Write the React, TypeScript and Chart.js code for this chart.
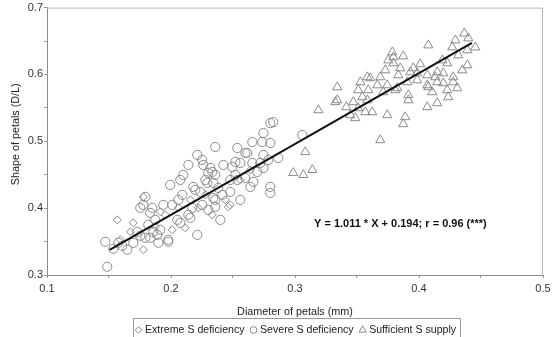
import React, { useEffect, useRef } from 'react';
import { Chart, registerables } from 'chart.js';
Chart.register(...registerables);

// Extreme S deficiency (diamonds)
const extremeX = [0.1567, 0.1696, 0.1873, 0.1591, 0.1954, 0.2059, 0.2156, 0.2478, 0.2559, 0.2220, 0.2333, 0.2640, 0.2115, 0.1914, 0.1672, 0.2277, 0.2438, 0.2462, 0.1777, 0.2010, 0.1777];
const extremeY = [0.3825, 0.3780, 0.3721, 0.3527, 0.3900, 0.4004, 0.4124, 0.4049, 0.4422, 0.4004, 0.3900, 0.4572, 0.3706, 0.3945, 0.3646, 0.4199, 0.4124, 0.4019, 0.3378, 0.3676, 0.4169];

// Severe S deficiency (circles)
const severeX = [0.1470, 0.1486, 0.1535, 0.1575, 0.1607, 0.1648, 0.1696, 0.1728, 0.1752, 0.1793, 0.1833, 0.1857, 0.1889, 0.1898, 0.1914, 0.1978, 0.2051, 0.2075, 0.2140, 0.2156, 0.2212, 0.1752, 0.1777, 0.1849, 0.1938, 0.2010, 0.1793, 0.1833, 0.1817, 0.1873, 0.1994, 0.2059, 0.2091, 0.2196, 0.2236, 0.2252, 0.2293, 0.2317, 0.2357, 0.2357, 0.2260, 0.2301, 0.2357, 0.2277, 0.2341, 0.2341, 0.2301, 0.2357, 0.2422, 0.2519, 0.2478, 0.2535, 0.2559, 0.2599, 0.2640, 0.2656, 0.2656, 0.2664, 0.2720, 0.2736, 0.2745, 0.2745, 0.2801, 0.2801, 0.2825, 0.2801, 0.2801, 0.2865, 0.2478, 0.2414, 0.2398, 0.2172, 0.2381, 0.2559, 0.2696, 0.2599, 0.3059, 0.2252, 0.2212, 0.2140, 0.2099, 0.2333, 0.2494, 0.2519, 0.2616, 0.2785, 0.2745, 0.2535, 0.2180, 0.2075, 0.1978];
const severeY = [0.3497, 0.3124, 0.3393, 0.3482, 0.3437, 0.3378, 0.3482, 0.3646, 0.3587, 0.3557, 0.3557, 0.3646, 0.3601, 0.3482, 0.3676, 0.3527, 0.3825, 0.3780, 0.3900, 0.3855, 0.3601, 0.4004, 0.4049, 0.4004, 0.4049, 0.4049, 0.4169, 0.3930, 0.3751, 0.3825, 0.4348, 0.4124, 0.4199, 0.4273, 0.4243, 0.4049, 0.4378, 0.4601, 0.4124, 0.4915, 0.4646, 0.4527, 0.4497, 0.4422, 0.4378, 0.4154, 0.3975, 0.4019, 0.4646, 0.4497, 0.4243, 0.4900, 0.4676, 0.4825, 0.4318, 0.4989, 0.4676, 0.4393, 0.4676, 0.4989, 0.5124, 0.4796, 0.4974, 0.5272, 0.5287, 0.4318, 0.4228, 0.4751, 0.4422, 0.4199, 0.3825, 0.4004, 0.4303, 0.4124, 0.4542, 0.4452, 0.5094, 0.4721, 0.4796, 0.4646, 0.4497, 0.4542, 0.4616, 0.4691, 0.4825, 0.4721, 0.4601, 0.4422, 0.4318, 0.4422, 0.3497];

// Sufficient S supply (triangles)
const sufficientX = [0.4365, 0.4075, 0.4293, 0.4268, 0.4398, 0.4454, 0.4390, 0.4317, 0.3785, 0.3793, 0.3873, 0.3752, 0.3793, 0.3849, 0.3954, 0.3930, 0.3986, 0.4067, 0.4147, 0.4188, 0.4228, 0.4196, 0.4276, 0.4349, 0.4390, 0.3728, 0.3688, 0.3583, 0.3607, 0.3527, 0.3664, 0.3744, 0.3825, 0.3906, 0.3986, 0.4067, 0.4147, 0.4196, 0.4276, 0.4309, 0.4131, 0.4075, 0.3341, 0.3510, 0.3591, 0.3712, 0.3543, 0.3341, 0.3325, 0.3470, 0.3583, 0.3914, 0.3914, 0.4236, 0.4067, 0.4147, 0.3809, 0.3188, 0.3446, 0.3567, 0.3623, 0.3486, 0.3744, 0.3889, 0.3873, 0.3688, 0.3083, 0.2986, 0.3067, 0.3140, 0.4010, 0.3833, 0.4228, 0.4107, 0.3414, 0.3510];
const sufficientY = [0.6616, 0.6437, 0.6512, 0.6407, 0.6542, 0.6407, 0.6363, 0.6288, 0.6333, 0.6258, 0.6273, 0.6213, 0.6169, 0.6094, 0.6094, 0.6034, 0.6019, 0.5990, 0.6034, 0.6213, 0.6169, 0.6019, 0.5960, 0.6064, 0.6139, 0.6064, 0.5960, 0.5960, 0.5945, 0.5885, 0.5840, 0.5840, 0.5796, 0.5885, 0.5915, 0.5840, 0.5885, 0.5870, 0.5885, 0.5796, 0.5960, 0.5810, 0.5810, 0.5766, 0.5766, 0.5736, 0.5661, 0.5616, 0.5587, 0.5587, 0.5616, 0.5691, 0.5616, 0.5661, 0.5512, 0.5572, 0.5766, 0.5467, 0.5393, 0.5437, 0.5437, 0.5348, 0.5393, 0.5363, 0.5258, 0.5019, 0.4840, 0.4527, 0.4497, 0.4572, 0.6154, 0.5990, 0.5766, 0.5736, 0.5512, 0.5497];

// Regression line as drawn
const lineX = [0.1505, 0.4427];
const lineY = [0.3375, 0.6472];

const xTickLabels = ['0.1', '0.2', '0.3', '0.4', '0.5'];
const yTickLabels = ['0.3', '0.4', '0.5', '0.6', '0.7'];
const legendLabels = ['Extreme S deficiency', 'Severe S deficiency', 'Sufficient S supply'];
const xTitle = 'Diameter of petals (mm)';
const yTitle = 'Shape of petals (D/L)';
const equationText = 'Y = 1.011 * X + 0.194; r = 0.96 (***)';
const equationPos = [0.385, 0.3766];

const FONT = "'Liberation Sans', Arial, sans-serif";
const MARK = '#8a8a8a';

const pts = (xs: number[], ys: number[]) => xs.map((x, i) => ({ x, y: ys[i] }));

function drawMarker(ctx: CanvasRenderingContext2D, kind: string, x: number, y: number, r: number) {
  ctx.beginPath();
  if (kind === 'diamond') {
    ctx.moveTo(x, y - r); ctx.lineTo(x + r, y); ctx.lineTo(x, y + r); ctx.lineTo(x - r, y); ctx.closePath();
  } else if (kind === 'circle') {
    ctx.arc(x, y, r, 0, Math.PI * 2);
  } else {
    ctx.moveTo(x, y - r); ctx.lineTo(x + r * 0.866, y + r * 0.5); ctx.lineTo(x - r * 0.866, y + r * 0.5); ctx.closePath();
  }
  ctx.stroke();
}

const decorPlugin = {
  id: 'decor',
  afterDraw(chart: any) {
    const ctx: CanvasRenderingContext2D = chart.ctx;
    const a = chart.chartArea;
    ctx.save();
    // top / right frame
    ctx.strokeStyle = '#b8b8b8';
    ctx.lineWidth = 1;
    ctx.beginPath();
    ctx.moveTo(a.left, a.top + 0.5); ctx.lineTo(a.right - 0.5, a.top + 0.5); ctx.lineTo(a.right - 0.5, a.bottom);
    ctx.stroke();

    // equation
    ctx.fillStyle = '#111';
    ctx.font = `bold 11px ${FONT}`;
    ctx.textAlign = 'center';
    ctx.textBaseline = 'middle';
    ctx.fillText(equationText, chart.scales.x.getPixelForValue(equationPos[0]), chart.scales.y.getPixelForValue(equationPos[1]));

    // x title
    ctx.font = `10.8px ${FONT}`;
    ctx.fillStyle = '#222';
    const cx = (a.left + a.right) / 2;
    ctx.fillText(xTitle, cx, 312);

    // y title
    ctx.save();
    ctx.translate(16, (a.top + a.bottom) / 2 - 7);
    ctx.rotate(-Math.PI / 2);
    ctx.fillText(yTitle, 0, 0);
    ctx.restore();

    // legend
    const kinds = ['diamond', 'circle', 'triangle'];
    const radii = [3.3, 3.4, 4.2];
    ctx.font = `10.6px ${FONT}`;
    const widths = legendLabels.map((l) => ctx.measureText(l).width);
    const markerToText = 6.5;
    const gap = 9;
    const pad = 5;
    let total = pad;
    widths.forEach((w, i) => { total += markerToText + w + (i < widths.length - 1 ? gap : 0); });
    total += 4;
    const boxLeft = Math.round(cx + 1 - total / 2) + 0.5;
    const boxTop = 318.5;
    ctx.strokeStyle = '#9a9a9a';
    ctx.strokeRect(boxLeft, boxTop, Math.round(total), 22);
    let cur = boxLeft + pad;
    const ly = 330;
    ctx.textAlign = 'left';
    widths.forEach((w, i) => {
      ctx.strokeStyle = MARK;
      ctx.lineWidth = 1;
      drawMarker(ctx, kinds[i], cur, ly, radii[i]);
      ctx.fillStyle = '#222';
      ctx.fillText(legendLabels[i], cur + markerToText, ly);
      cur += markerToText + w + gap;
    });
    ctx.restore();
  },
};

export default function App() {
  const ref = useRef<HTMLCanvasElement>(null);
  useEffect(() => {
    if (!ref.current) return;
    const chart = new Chart(ref.current, {
      type: 'scatter',
      data: {
        datasets: [
          {
            label: 'fit',
            data: pts(lineX, lineY),
            showLine: true,
            borderColor: '#111',
            borderWidth: 2,
            pointRadius: 0,
          } as any,
          {
            label: legendLabels[0],
            data: pts(extremeX, extremeY),
            pointStyle: 'rectRot',
            pointRadius: 4,
            borderColor: MARK,
            backgroundColor: 'rgba(0,0,0,0)',
            borderWidth: 1,
          },
          {
            label: legendLabels[1],
            data: pts(severeX, severeY),
            pointStyle: 'circle',
            pointRadius: 4.6,
            borderColor: MARK,
            backgroundColor: 'rgba(0,0,0,0)',
            borderWidth: 1,
          },
          {
            label: legendLabels[2],
            data: pts(sufficientX, sufficientY),
            pointStyle: 'triangle',
            pointRadius: 5.3,
            borderColor: MARK,
            backgroundColor: 'rgba(0,0,0,0)',
            borderWidth: 1,
          },
        ],
      },
      options: {
        responsive: false,
        animation: false,
        events: [],
        layout: { padding: { top: 7, right: 13, left: 0, bottom: 0 } },
        plugins: { legend: { display: false }, tooltip: { enabled: false }, title: { display: false } },
        scales: {
          x: {
            type: 'linear',
            min: 0.1,
            max: 0.5,
            ticks: {
              stepSize: 0.05,
              autoSkip: false,
              maxRotation: 0,
              padding: 4,
              color: '#333',
              font: { family: FONT, size: 11 },
              callback: (_v: any, i: number) => (i % 2 === 0 ? xTickLabels[i / 2] : ''),
            },
            grid: { drawOnChartArea: false, drawTicks: true, tickLength: 3, color: '#999' },
            border: { display: true, color: '#8c8c8c' },
            afterFit: (s: any) => { s.height = 62; },
          },
          y: {
            type: 'linear',
            min: 0.3,
            max: 0.7,
            ticks: {
              stepSize: 0.05,
              autoSkip: false,
              padding: 1,
              color: '#333',
              font: { family: FONT, size: 11 },
              callback: (_v: any, i: number) => (i % 2 === 0 ? yTickLabels[i / 2] : ''),
            },
            grid: { drawOnChartArea: false, drawTicks: true, tickLength: 3, color: '#999' },
            border: { display: true, color: '#8c8c8c' },
            afterFit: (s: any) => { s.width = 47; },
          },
        },
      },
      plugins: [decorPlugin],
    });
    return () => chart.destroy();
  }, []);
  return (
    <div style={{ position: 'absolute', left: 0, top: 0, width: 556, height: 337, background: '#fff' }}>
      <canvas ref={ref} width={556} height={337} />
    </div>
  );
}
